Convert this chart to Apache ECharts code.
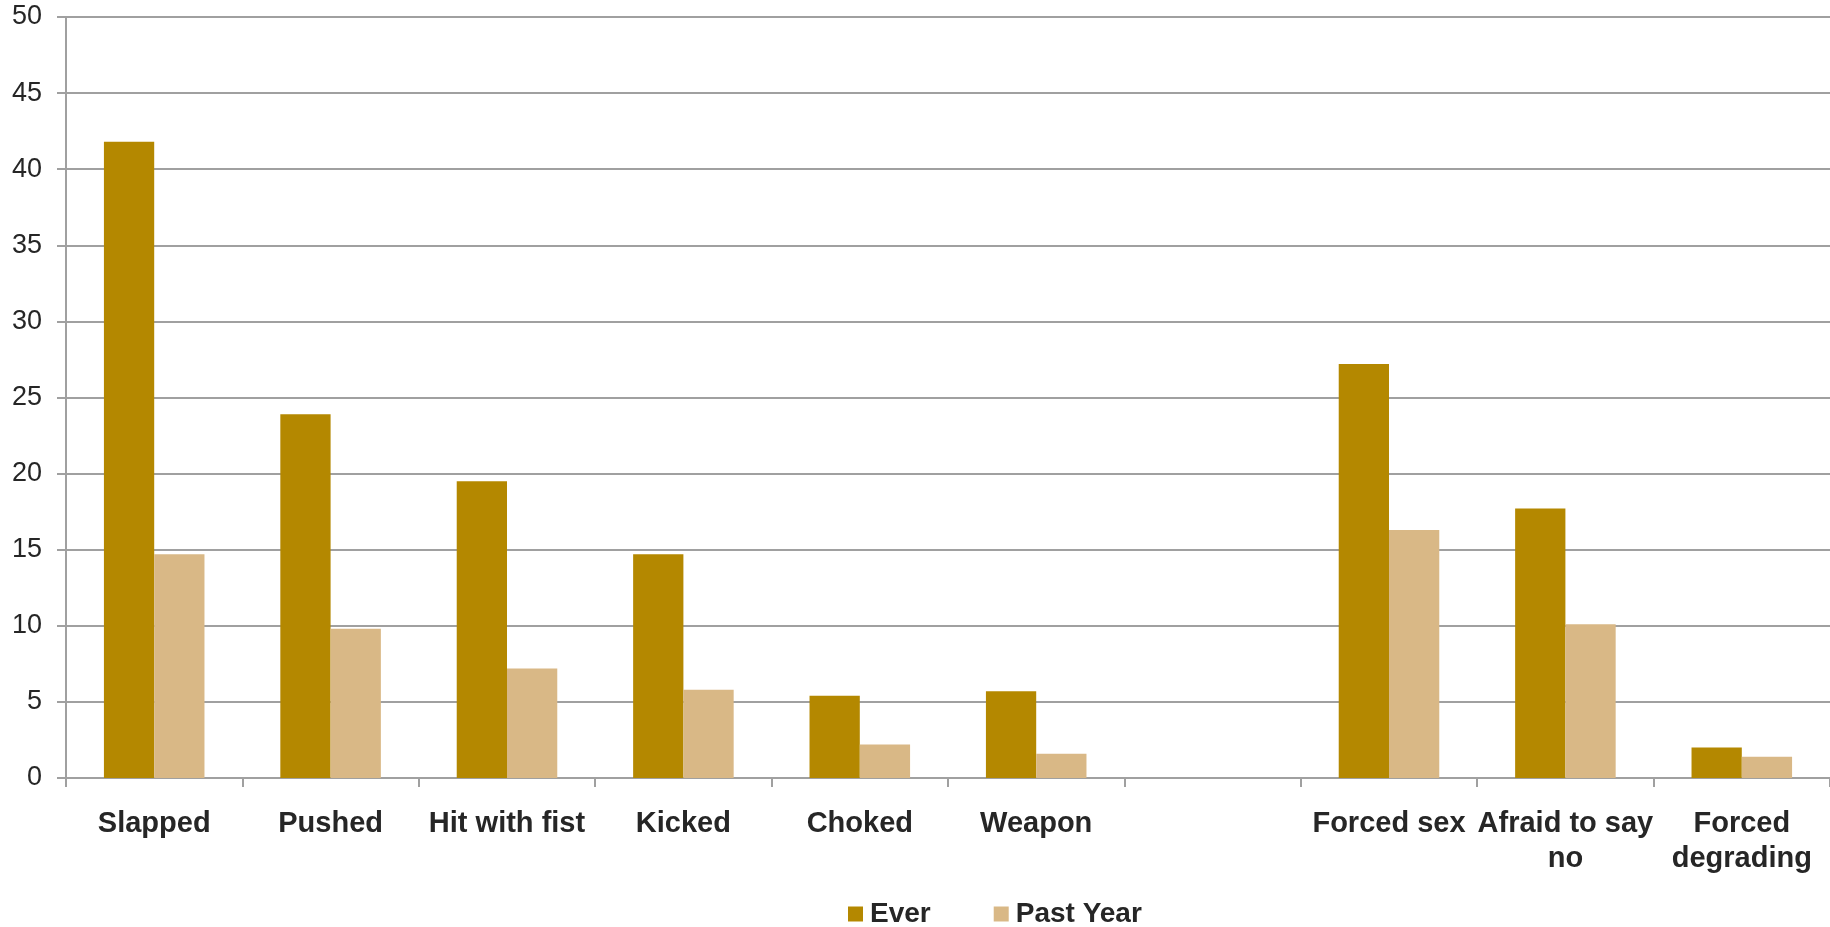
<!DOCTYPE html>
<html><head><meta charset="utf-8">
<script src="https://cdn.jsdelivr.net/npm/echarts@6/dist/echarts.min.js"></script>
<style>html,body{margin:0;padding:0;background:#fff}#c{width:1830px;height:927px}</style>
</head><body><div id="c"></div>
<script>
const categories = ["Slapped","Pushed","Hit with fist","Kicked","Choked","Weapon","","Forced sex","Afraid to say\nno","Forced\ndegrading"];
const everValues = [41.8,23.9,19.5,14.7,5.4,5.7,null,27.2,17.7,2.0];
const pastYearValues = [14.7,9.8,7.2,5.8,2.2,1.6,null,16.3,10.1,1.4];
const seriesNames = ["Ever","Past Year"];
const yTicks = {min:0,max:50,interval:5};

const chart = echarts.init(document.getElementById('c'));
const gridColor = '#a0a0a0';
const font = 'Liberation Sans, Arial, sans-serif';
chart.setOption({
  animation:false,
  textStyle:{fontFamily:font},
  grid:{left:66,right:-5,top:17,bottom:149,containLabel:false},
  legend:{
    data:seriesNames, bottom:-6, left:843,
    itemWidth:15,itemHeight:15,itemGap:63,icon:'rect',
    textStyle:{fontFamily:font,fontSize:28,fontWeight:'bold',color:'#262626',padding:[0,0,0,2]}
  },
  xAxis:{
    type:'category', data:categories,
    axisLine:{lineStyle:{color:gridColor,width:2}},
    axisTick:{show:true,length:9,lineStyle:{color:gridColor,width:2}},
    axisLabel:{interval:0,margin:28,fontFamily:font,fontSize:29,fontWeight:'bold',color:'#262626',lineHeight:35}
  },
  yAxis:{
    type:'value', min:yTicks.min, max:yTicks.max, interval:yTicks.interval,
    axisLine:{show:true,lineStyle:{color:gridColor,width:2}},
    axisTick:{show:true,length:9,lineStyle:{color:gridColor,width:2}},
    splitLine:{lineStyle:{color:gridColor,width:2}},
    axisLabel:{margin:24,fontFamily:font,fontSize:27,color:'#262626'}
  },
  series:[
    {name:seriesNames[0],type:'bar',data:everValues,barGap:'0%',barCategoryGap:'43%',itemStyle:{color:'#B48800'}},
    {name:seriesNames[1],type:'bar',data:pastYearValues,barGap:'0%',barCategoryGap:'43%',itemStyle:{color:'#D9B886'}}
  ]
});
</script></body></html>
